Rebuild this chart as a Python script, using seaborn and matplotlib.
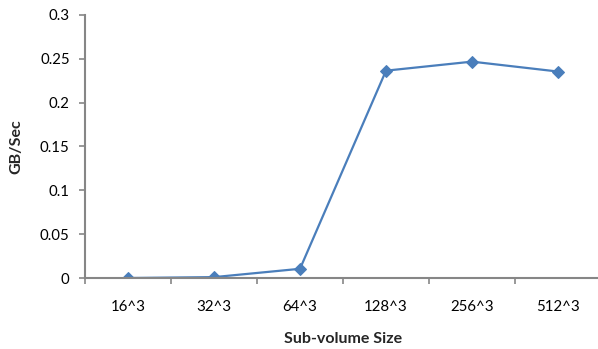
import matplotlib
matplotlib.use("Agg")
import matplotlib.pyplot as plt
import seaborn as sns
import pandas as pd
from matplotlib.ticker import FormatStrFormatter, FixedLocator

sizes = ["16^3", "32^3", "64^3", "128^3", "256^3", "512^3"]
gb_per_sec = [0.0, 0.001, 0.0105, 0.2365, 0.2468, 0.2355]
y_ticks = [0, 0.05, 0.1, 0.15, 0.2, 0.25, 0.3]

sns.set_theme(style="white")
plt.rcParams["font.family"] = ["Lato", "DejaVu Sans"]

line_color = "#4A7EBB"
axis_color = "#868686"

df = pd.DataFrame({"size": sizes, "rate": gb_per_sec})

fig = plt.figure(figsize=(5.98, 3.49), dpi=100)
ax = fig.add_axes([85 / 598, 71 / 349, 516 / 598, 263 / 349])

sns.lineplot(data=df, x="size", y="rate", ax=ax, color=line_color,
             linewidth=1.6, marker="D", markersize=6.5, markeredgecolor=line_color,
             sort=False)

ax.set_xlim(-0.5, len(sizes) - 0.5)
ax.set_ylim(0, 0.3)
ax.set_yticks(y_ticks)
ax.yaxis.set_major_formatter(FormatStrFormatter("%g"))

# category labels centred, tick marks between categories
ax.set_xticks(range(len(sizes)))
ax.set_xticklabels(sizes)
ax.xaxis.set_minor_locator(FixedLocator([i - 0.5 for i in range(len(sizes) + 1)]))
ax.tick_params(axis="x", which="major", length=0, pad=16, labelsize=10.8, labelcolor="#000000")
ax.tick_params(axis="x", which="minor", bottom=True, length=4, width=1.2, color=axis_color, direction="out")
ax.tick_params(axis="y", which="major", left=True, length=4, width=1.2, color=axis_color,
               direction="out", pad=7, labelsize=10.8, labelcolor="#000000")

for side in ["top", "right"]:
    ax.spines[side].set_visible(False)
for side in ["left", "bottom"]:
    ax.spines[side].set_color(axis_color)
    ax.spines[side].set_linewidth(1.5)

ax.set_xlabel("Sub-volume Size", fontsize=11.5, fontweight="bold", labelpad=13)
ax.set_ylabel("GB/Sec", fontsize=11.5, fontweight="bold", labelpad=12)
ax.grid(False)

fig.savefig("out.png", dpi=100)
